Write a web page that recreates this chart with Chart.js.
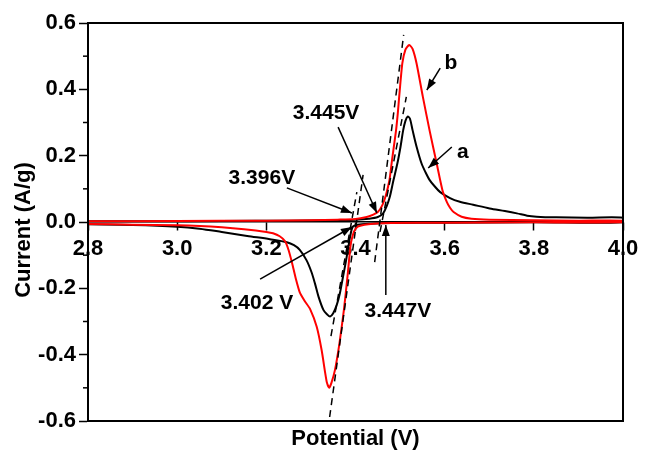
<!DOCTYPE html>
<html>
<head>
<meta charset="utf-8">
<script src="https://cdn.jsdelivr.net/npm/chart.js@4/dist/chart.umd.min.js"></script>
<style>
  html, body { margin: 0; padding: 0; background: #fff; }
  canvas { display: block; }
</style>
</head>
<body>
<canvas id="cv" width="646" height="450"></canvas>
<script>
// curve a (black): anodic sweep 2.8 -> 4.0, then cathodic sweep back
const potentialA = [
  2.80, 2.95, 3.10, 3.25, 3.35, 3.40, 3.43, 3.45, 3.462, 3.470, 3.477, 3.485,
  3.494, 3.501, 3.507, 3.512, 3.517, 3.522, 3.528, 3.537, 3.548, 3.557, 3.566,
  3.576, 3.590, 3.612, 3.634, 3.664, 3.701, 3.735, 3.762, 3.785, 3.806, 3.85,
  3.92, 4.00,
  4.00, 3.80, 3.60, 3.48, 3.43, 3.405, 3.394, 3.388, 3.379, 3.372, 3.365, 3.358,
  3.350, 3.343, 3.336, 3.328, 3.317, 3.309, 3.301, 3.290, 3.275, 3.262, 3.246,
  3.208, 3.157, 3.10, 3.05, 3.00, 2.90, 2.80
];
const currentA = [
  0.002, 0.002, 0.003, 0.004, 0.005, 0.007, 0.010, 0.015, 0.026, 0.048, 0.076, 0.125,
  0.177, 0.227, 0.277, 0.305, 0.318, 0.312, 0.277, 0.227, 0.177, 0.150, 0.127,
  0.110, 0.090, 0.072, 0.061, 0.052, 0.041, 0.033, 0.026, 0.019, 0.016, 0.014,
  0.013, 0.013,
  -0.001, -0.001, -0.002, -0.003, -0.005, -0.008, -0.014, -0.044, -0.115, -0.165, -0.215, -0.250,
  -0.275, -0.285, -0.278, -0.265, -0.225, -0.185, -0.150, -0.115, -0.084, -0.070, -0.061,
  -0.052, -0.042, -0.030, -0.020, -0.014, -0.009, -0.007
];

// curve b (red)
const potentialB = [
  2.80, 3.00, 3.20, 3.30, 3.36, 3.40, 3.425, 3.44, 3.45, 3.46, 3.468, 3.476,
  3.481, 3.486, 3.491, 3.495, 3.498, 3.505, 3.512, 3.5205, 3.528, 3.537, 3.551,
  3.566, 3.582, 3.595, 3.605, 3.612, 3.620, 3.638, 3.660, 3.700, 3.80, 3.90, 4.00,
  4.00, 3.80, 3.60, 3.48, 3.44, 3.42, 3.405, 3.397, 3.392, 3.389, 3.382, 3.374,
  3.364, 3.354, 3.346, 3.341, 3.336, 3.332, 3.324, 3.313, 3.298, 3.286, 3.275,
  3.266, 3.258, 3.250, 3.242, 3.230, 3.215, 3.20, 3.15, 3.10, 3.05, 3.00, 2.90, 2.80
];
const currentB = [
  0.002, 0.003, 0.004, 0.005, 0.007, 0.009, 0.015, 0.022, 0.030, 0.050, 0.080, 0.125,
  0.177, 0.227, 0.277, 0.330, 0.378, 0.478, 0.520, 0.534, 0.522, 0.478, 0.378,
  0.277, 0.177, 0.096, 0.060, 0.043, 0.030, 0.016, 0.010, 0.007, 0.005, 0.004, 0.004,
  -0.001, -0.001, -0.002, -0.003, -0.005, -0.008, -0.014, -0.028, -0.050, -0.070, -0.165, -0.265,
  -0.366, -0.446, -0.485, -0.500, -0.485, -0.455, -0.386, -0.316, -0.262, -0.238, -0.212,
  -0.170, -0.125, -0.085, -0.058, -0.043, -0.034, -0.030, -0.022, -0.016, -0.012, -0.010, -0.008, -0.006
];

// dashed tangent lines used for the onset potentials
const tangentBUpX = [3.443, 3.508];
const tangentBUpY = [-0.121, 0.564];
const tangentAUpX = [3.455, 3.514];
const tangentAUpY = [-0.030, 0.377];
const tangentBDownX = [3.342, 3.417];
const tangentBDownY = [-0.588, 0.142];
const tangentADownX = [3.345, 3.403];
const tangentADownY = [-0.344, 0.090];

// text labels with arrows (data units)
const notes = [
  { text: "3.445V", at: [3.334, 0.329], from: [3.361, 0.286], to: [3.448, 0.027] },
  { text: "3.396V", at: [3.190, 0.133], from: [3.246, 0.103], to: [3.392, 0.027] },
  { text: "3.402 V", at: [3.179, -0.244], from: [3.186, -0.172], to: [3.392, -0.015] },
  { text: "3.447V", at: [3.495, -0.268], from: [3.468, -0.220], to: [3.468, -0.009] },
  { text: "b", at: [3.614, 0.479], from: [3.590, 0.464], to: [3.560, 0.398] },
  { text: "a", at: [3.641, 0.211], from: [3.616, 0.226], to: [3.563, 0.163] }
];

const FONT = '"Liberation Sans", Arial, Helvetica, sans-serif';

function toPoints(xs, ys) {
  return xs.map((v, i) => ({ x: v, y: ys[i] }));
}

function dashed(xs, ys) {
  return {
    data: toPoints(xs, ys),
    borderColor: "#000",
    borderWidth: 1.5,
    borderDash: [7, 5],
    pointRadius: 0,
    tension: 0
  };
}

function arrow(ctx, x1, y1, x2, y2) {
  ctx.beginPath();
  ctx.moveTo(x1, y1);
  ctx.lineTo(x2, y2);
  ctx.stroke();
  const ang = Math.atan2(y2 - y1, x2 - x1);
  const len = 11, w = 4;
  const bx = x2 - len * Math.cos(ang), by = y2 - len * Math.sin(ang);
  ctx.beginPath();
  ctx.moveTo(x2, y2);
  ctx.lineTo(bx + w * Math.sin(ang), by - w * Math.cos(ang));
  ctx.lineTo(bx - w * Math.sin(ang), by + w * Math.cos(ang));
  ctx.closePath();
  ctx.fill();
}

const decorations = {
  id: "decorations",
  afterDatasetsDraw(chart) {
    const { ctx, chartArea: a, scales: { x, y } } = chart;
    ctx.save();
    ctx.strokeStyle = "#000";
    ctx.fillStyle = "#000";

    // box around the plot
    ctx.lineWidth = 2;
    ctx.strokeRect(a.left, a.top, a.right - a.left, a.bottom - a.top);

    // minor ticks on the y axis
    ctx.lineWidth = 1.5;
    for (let v = -0.5; v < 0.6; v += 0.2) {
      const py = y.getPixelForValue(v);
      ctx.beginPath();
      ctx.moveTo(a.left - 5, py);
      ctx.lineTo(a.left, py);
      ctx.stroke();
    }

    // annotations
    ctx.font = "bold 21px " + FONT;
    ctx.textAlign = "center";
    ctx.textBaseline = "middle";
    notes.forEach(n => {
      arrow(ctx,
        x.getPixelForValue(n.from[0]), y.getPixelForValue(n.from[1]),
        x.getPixelForValue(n.to[0]), y.getPixelForValue(n.to[1]));
      ctx.fillText(n.text, x.getPixelForValue(n.at[0]), y.getPixelForValue(n.at[1]));
    });

    // axis titles (x axis itself sits on the zero line)
    ctx.font = "bold 22px " + FONT;
    ctx.fillText("Potential (V)", (a.left + a.right) / 2, a.bottom + 18);
    ctx.translate(24, (a.top + a.bottom) / 2 + 8);
    ctx.rotate(-Math.PI / 2);
    ctx.fillText("Current (A/g)", 0, 0);
    ctx.restore();
  }
};

new Chart(document.getElementById("cv"), {
  type: "line",
  data: {
    datasets: [
      dashed(tangentBUpX, tangentBUpY),
      dashed(tangentAUpX, tangentAUpY),
      dashed(tangentBDownX, tangentBDownY),
      dashed(tangentADownX, tangentADownY),
      {
        label: "b",
        data: toPoints(potentialB, currentB),
        borderColor: "#ff0000",
        borderWidth: 2,
        pointRadius: 0,
        tension: 0.2
      },
      {
        label: "a",
        data: toPoints(potentialA, currentA),
        borderColor: "#000",
        borderWidth: 2,
        pointRadius: 0,
        tension: 0.3
      }
    ]
  },
  options: {
    responsive: false,
    animation: false,
    layout: { padding: { top: 23, right: 23, bottom: 29, left: 0 } },
    plugins: {
      legend: { display: false },
      tooltip: { enabled: false }
    },
    scales: {
      x: {
        type: "linear",
        position: { y: 0 },
        min: 2.8,
        max: 4.0,
        border: { color: "#000", width: 1.5 },
        grid: {
          drawOnChartArea: false,
          tickLength: 8,
          tickColor: "#000",
          tickWidth: 1.5
        },
        ticks: {
          stepSize: 0.2,
          maxRotation: 0,
          autoSkip: false,
          padding: 6,
          color: "#000",
          font: { family: FONT, size: 22, weight: "bold" },
          callback: v => v.toFixed(1)
        }
      },
      y: {
        type: "linear",
        position: "left",
        min: -0.6,
        max: 0.6,
        afterFit: s => { s.width = 88; },
        border: { color: "#000", width: 2 },
        grid: {
          drawOnChartArea: false,
          tickLength: 9,
          tickColor: "#000",
          tickWidth: 1.5
        },
        ticks: {
          stepSize: 0.2,
          padding: 3,
          color: "#000",
          font: { family: FONT, size: 22, weight: "bold" },
          callback: v => v.toFixed(1)
        }
      }
    }
  },
  plugins: [decorations]
});
</script>
</body>
</html>
